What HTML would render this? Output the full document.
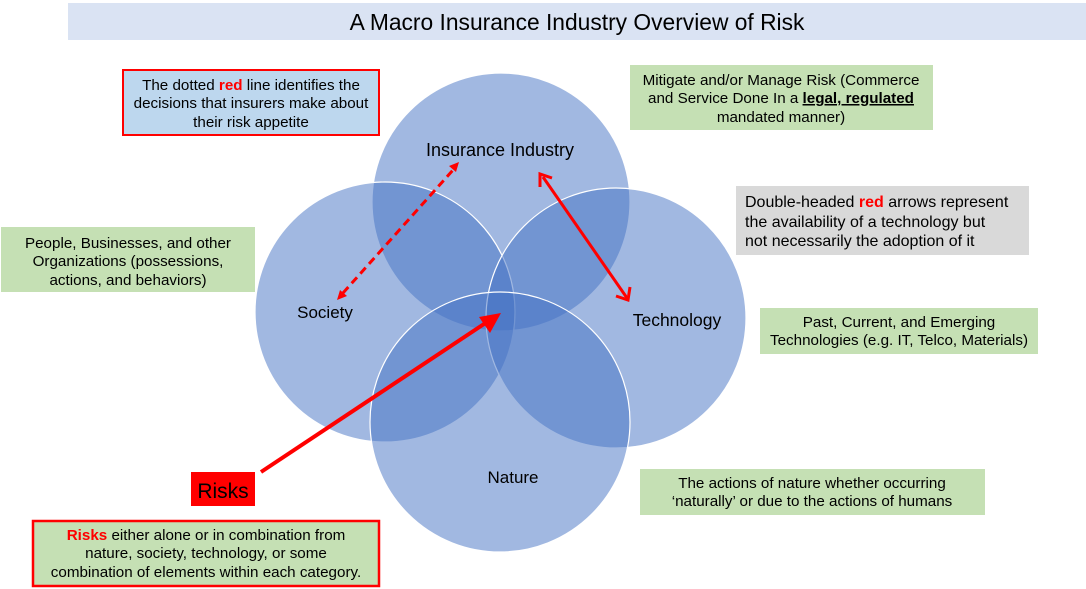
<!DOCTYPE html>
<html><head><meta charset="utf-8"><style>
html,body{margin:0;padding:0;background:#fff;}
svg{display:block;font-family:"Liberation Sans",Arial,sans-serif;}
</style></head><body>
<svg width="1086" height="589" viewBox="0 0 1086 589" xmlns="http://www.w3.org/2000/svg">
<rect x="68" y="3" width="1018" height="37" fill="#dae3f3"/>
<text x="577" y="30" font-size="22.8" text-anchor="middle" fill="#000">A Macro Insurance Industry Overview of Risk</text>

<g fill="rgba(68,114,196,0.5)" stroke="#fff" stroke-width="1.2">
<circle cx="501" cy="202" r="129"/>
<circle cx="385" cy="312" r="130"/>
<circle cx="616" cy="318" r="130"/>
<circle cx="500" cy="422" r="130"/>
</g>
<g fill="#000" text-anchor="middle">
<text x="500" y="156" font-size="18">Insurance Industry</text>
<text x="325" y="318" font-size="17">Society</text>
<text x="677" y="326" font-size="17.5">Technology</text>
<text x="513" y="483" font-size="17">Nature</text>
</g>

<!-- dotted arrow -->
<line x1="343" y1="293" x2="453" y2="170" stroke="#ff0000" stroke-width="3" stroke-dasharray="8,5"/>
<path d="M459,162 L449,166 L456,172 Z M337,300 L340,290 L347,296 Z" fill="#ff0000"/>
<!-- double arrow -->
<line x1="543" y1="177" x2="627" y2="298" stroke="#ff0000" stroke-width="3"/>
<path d="M540,187 L540,174 L552,178" fill="none" stroke="#ff0000" stroke-width="3"/>
<path d="M616,296 L628,300 L630,287" fill="none" stroke="#ff0000" stroke-width="3"/>
<!-- risks arrow -->
<line x1="261" y1="472" x2="487" y2="322" stroke="#ff0000" stroke-width="4"/>
<path d="M501,313 L479,317 L490,333 Z" fill="#ff0000"/>

<!-- boxes -->
<rect x="123" y="70" width="256" height="65" fill="#bdd7ee" stroke="#ff0000" stroke-width="2"/>
<g font-size="15.2" text-anchor="middle" fill="#000">
<text x="251" y="90">The dotted <tspan fill="#ff0000" font-weight="bold">red</tspan> line identifies the</text>
<text x="251" y="108">decisions that insurers make about</text>
<text x="251" y="127">their risk appetite</text>
</g>
<rect x="1" y="227" width="254" height="65" fill="#c5e0b4"/>
<g font-size="15.2" text-anchor="middle" fill="#000">
<text x="128" y="248">People, Businesses, and other</text>
<text x="128" y="266">Organizations (possessions,</text>
<text x="128" y="285">actions, and behaviors)</text>
</g>
<rect x="630" y="65" width="303" height="65" fill="#c5e0b4"/>
<g font-size="15.2" text-anchor="middle" fill="#000">
<text x="781" y="85">Mitigate and/or Manage Risk (Commerce</text>
<text x="781" y="103">and Service Done In a <tspan font-weight="bold" text-decoration="underline">legal, regulated</tspan></text>
<text x="781" y="122">mandated manner)</text>
</g>
<rect x="736" y="186" width="293" height="69" fill="#d9d9d9"/>
<g font-size="16" fill="#000">
<text x="745" y="207">Double-headed <tspan fill="#ff0000" font-weight="bold">red</tspan> arrows represent</text>
<text x="745" y="227">the availability of a technology but</text>
<text x="745" y="246">not necessarily the adoption of it</text>
</g>
<rect x="760" y="308" width="278" height="46" fill="#c5e0b4"/>
<g font-size="15.2" text-anchor="middle" fill="#000">
<text x="899" y="327">Past, Current, and Emerging</text>
<text x="899" y="345">Technologies (e.g. IT, Telco, Materials)</text>
</g>
<rect x="640" y="469" width="345" height="46" fill="#c5e0b4"/>
<g font-size="15.2" text-anchor="middle" fill="#000">
<text x="812" y="488">The actions of nature whether occurring</text>
<text x="812" y="506">‘naturally’ or due to the actions of humans</text>
</g>
<rect x="191" y="472" width="64" height="34" fill="#ff0000"/>
<text x="223" y="498" font-size="21" text-anchor="middle" fill="#000">Risks</text>
<rect x="33" y="521" width="346" height="65" fill="#c5e0b4" stroke="#ff0000" stroke-width="2.5"/>
<g font-size="15.2" text-anchor="middle" fill="#000">
<text x="206" y="540"><tspan fill="#ff0000" font-weight="bold">Risks</tspan> either alone or in combination from</text>
<text x="206" y="558">nature, society, technology, or some</text>
<text x="206" y="577">combination of elements within each category.</text>
</g>
</svg>
</body></html>
